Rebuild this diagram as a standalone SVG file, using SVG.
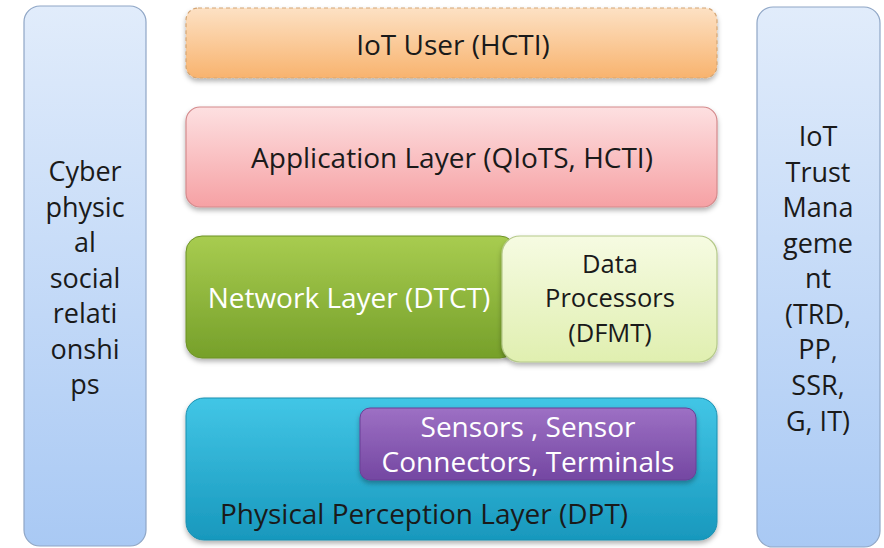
<svg xmlns="http://www.w3.org/2000/svg" width="884" height="548" viewBox="0 0 884 548">
<style>
text{font-family:"Open Sans","Noto Sans","Liberation Sans",sans-serif;text-anchor:middle}
.dk{fill:#1a1a1a;font-size:28px}
.wt{fill:#ffffff;font-size:28px}
.dp{fill:#1a1a1a;font-size:25.5px}
.side{fill:#1a1a1a;font-size:27px}
</style>
<defs>
<linearGradient id="gSide" x1="0" y1="0" x2="0" y2="1"><stop offset="0" stop-color="#e1ecfb"/><stop offset="1" stop-color="#a9c9f4"/></linearGradient>
<linearGradient id="gUser" x1="0" y1="0" x2="0" y2="1"><stop offset="0" stop-color="#fde1c4"/><stop offset="1" stop-color="#f8b36e"/></linearGradient>
<linearGradient id="gApp" x1="0" y1="0" x2="0" y2="1"><stop offset="0" stop-color="#fde0e1"/><stop offset="1" stop-color="#f6a1a4"/></linearGradient>
<linearGradient id="gNet" x1="0" y1="0" x2="0" y2="1"><stop offset="0" stop-color="#a8cc50"/><stop offset="1" stop-color="#76a02a"/></linearGradient>
<linearGradient id="gData" x1="0" y1="0" x2="0" y2="1"><stop offset="0" stop-color="#f6fbe2"/><stop offset="1" stop-color="#e0efb0"/></linearGradient>
<linearGradient id="gPhy" x1="0" y1="0" x2="0" y2="1"><stop offset="0" stop-color="#42c6e6"/><stop offset="1" stop-color="#1898bd"/></linearGradient>
<linearGradient id="gPur" x1="0" y1="0" x2="0" y2="1"><stop offset="0" stop-color="#9d70c4"/><stop offset="1" stop-color="#7447a2"/></linearGradient>
<filter id="sh" x="-10%" y="-10%" width="120%" height="130%"><feDropShadow dx="0" dy="3" stdDeviation="2.5" flood-color="#000" flood-opacity="0.3"/></filter>
</defs>
<g id="cyber">
<rect x="24" y="6" width="122" height="540" rx="16" fill="url(#gSide)" stroke="#8fa6c6" stroke-width="1.2"/>
<text class="side"><tspan x="85" y="181">Cyber</tspan><tspan x="85" y="217">physic</tspan><tspan x="85" y="252">al</tspan><tspan x="85" y="288">social</tspan><tspan x="85" y="323">relati</tspan><tspan x="85" y="359">onshi</tspan><tspan x="85" y="394">ps</tspan></text>
</g>
<g id="trust">
<rect x="757" y="7" width="123" height="540" rx="16" fill="url(#gSide)" stroke="#8fa6c6" stroke-width="1.2"/>
<text class="side"><tspan x="818" y="146">IoT</tspan><tspan x="818" y="182">Trust</tspan><tspan x="818" y="217">Mana</tspan><tspan x="818" y="253">geme</tspan><tspan x="818" y="288">nt</tspan><tspan x="818" y="324">(TRD,</tspan><tspan x="818" y="359">PP,</tspan><tspan x="818" y="395">SSR,</tspan><tspan x="818" y="431">G, IT)</tspan></text>
</g>
<g id="user">
<rect x="186" y="8" width="531" height="70" rx="12" fill="url(#gUser)" stroke="#d3a574" stroke-width="1.2" stroke-dasharray="4 3" filter="url(#sh)"/>
<text class="dk" x="453" y="55">IoT User (HCTI)</text>
</g>
<g id="app">
<rect x="186" y="107" width="531" height="100" rx="14" fill="url(#gApp)" stroke="#d48a8c" stroke-width="1.2" filter="url(#sh)"/>
<text class="dk" x="452" y="168">Application Layer (QIoTS, HCTI)</text>
</g>
<g id="network">
<rect x="186" y="236" width="330" height="122" rx="16" fill="url(#gNet)" stroke="#6d9226" stroke-width="1" filter="url(#sh)"/>
<text class="wt" x="349" y="308">Network Layer (DTCT)</text>
</g>
<g id="data">
<rect x="502" y="236" width="215" height="126" rx="18" fill="url(#gData)" stroke="#b5c98a" stroke-width="1.2" filter="url(#sh)"/>
<text class="dp"><tspan x="610" y="273">Data</tspan><tspan x="610" y="307">Processors</tspan><tspan x="610" y="342">(DFMT)</tspan></text>
</g>
<g id="physical">
<rect x="186" y="398" width="531" height="142" rx="18" fill="url(#gPhy)" stroke="#1a8fb0" stroke-width="1" filter="url(#sh)"/>
<text class="dk" x="424" y="524">Physical Perception Layer (DPT)</text>
</g>
<g id="sensors">
<rect x="360" y="408" width="336" height="72" rx="10" fill="url(#gPur)" stroke="#6a3f96" stroke-width="1" filter="url(#sh)"/>
<text class="wt"><tspan x="528" y="437">Sensors , Sensor</tspan><tspan x="528" y="472">Connectors, Terminals</tspan></text>
</g>
<g id="connectors"></g>
</svg>
